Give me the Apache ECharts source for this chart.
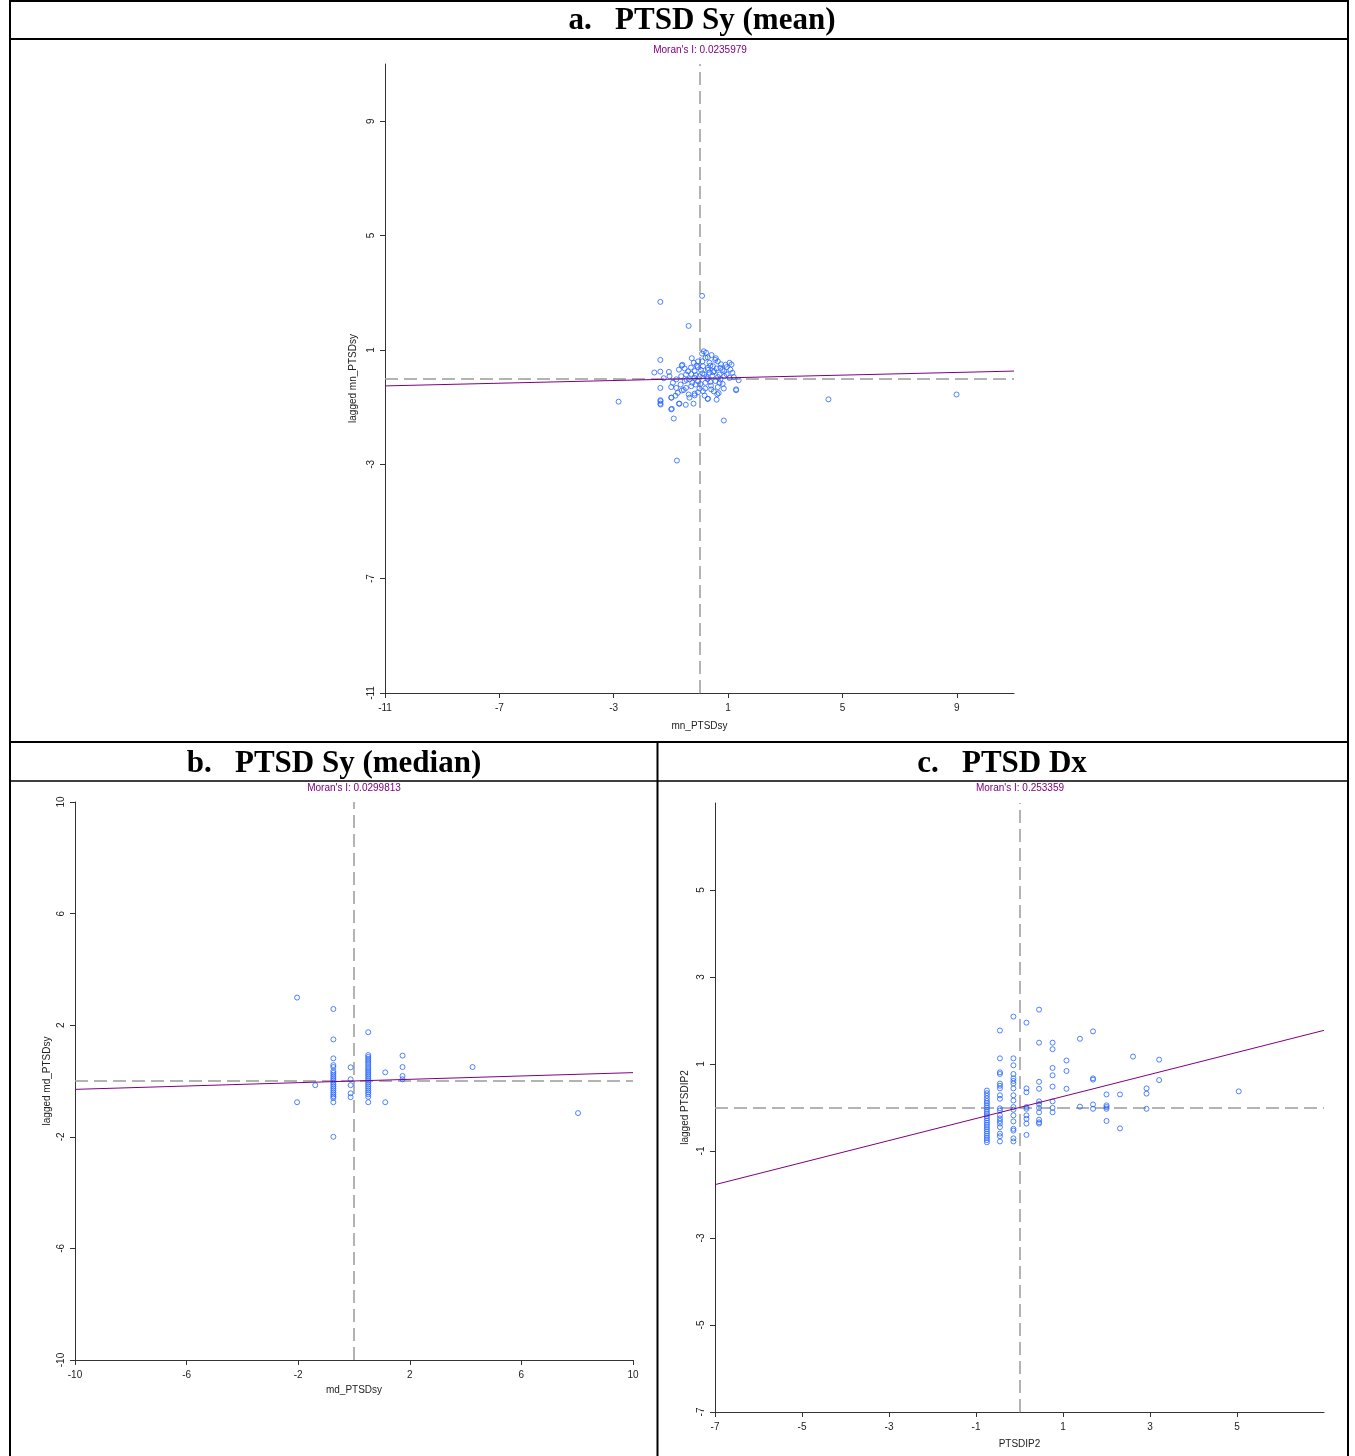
<!DOCTYPE html>
<html>
<head>
<meta charset="utf-8">
<script src="https://cdn.jsdelivr.net/npm/echarts@6/dist/echarts.min.js"></script>
<style>
html,body{margin:0;padding:0;background:#fff;}
#chart{width:1355px;height:1456px;}
</style>
</head>
<body>
<div id="chart"></div>
<script>
// ---------- Panel titles & labels ----------
const panelTitles = ['a.\u00a0\u00a0\u00a0PTSD Sy (mean)', 'b.\u00a0\u00a0\u00a0PTSD Sy (median)', 'c.\u00a0\u00a0\u00a0PTSD Dx'];
const moranValues = [0.0235979, 0.0299813, 0.253359];
const xNames = ['mn_PTSDsy', 'md_PTSDsy', 'PTSDIP2'];
const yNames = ['lagged mn_PTSDsy', 'lagged md_PTSDsy', 'lagged PTSDIP2'];

// ---------- Axis ranges & tick labels ----------
const rangeA = [-11, 11];
const ticksA = [-11, -7, -3, 1, 5, 9];
const rangeB = [-10, 10];
const ticksB = [-10, -6, -2, 2, 6, 10];
const rangeC = [-7, 7];
const ticksC = [-7, -5, -3, -1, 1, 3, 5];

// ---------- Data: panel a (mean) ----------
const meanPoints = [
  [-1.37,2.68],[0.09,2.89],[-0.38,1.84],[-1.37,0.65],[-2.83,-0.81],[-0.79,-2.87],[0.85,-1.47],
  [-0.90,-1.40],[-0.97,-1.06],[-1.37,-0.76],[-1.37,-0.88],[-0.72,-0.88],[-0.48,-0.92],[-0.21,-0.88],
  [0.29,-0.71],[0.60,-0.74],[1.28,-0.41],[1.37,-0.06],[-1.37,-0.33],[-1.58,0.21],[-1.37,0.24],
  [-1.07,0.23],[-1.05,0.08],[-1.25,0.01],[-0.27,0.71],[-0.60,0.48],[-0.72,0.31],[-0.98,-0.67],
  [-0.84,-0.60],[-0.35,-0.67],[-0.17,-0.59],[0.67,-0.51],[1.12,0.49],[0.91,0.48],[0.57,0.71],
  [0.23,0.90],[0.09,0.87],[-0.05,0.60],[0.29,0.74],[4.51,-0.73],[8.99,-0.56],[-0.62,0.45],
  [-0.52,0.35],[0.21,0.72],[0.64,0.60],[1.08,0.31],[0.87,0.26],[0.73,0.37],[0.47,0.43],
  [0.29,0.37],[0.12,0.43],[-0.06,0.40],[-0.17,0.26],[-0.29,0.16],[-0.47,0.14],[-0.64,0.08],
  [-0.81,-0.03],[-0.93,-0.15],[-0.99,-0.30],[-0.81,-0.33],[-0.66,-0.21],[-0.52,-0.09],[-0.35,-0.03],
  [-0.17,0.02],[0.00,0.08],[0.17,0.14],[0.35,0.20],[0.52,0.26],[0.70,0.14],[0.87,0.08],
  [1.05,0.02],[0.73,-0.03],[0.56,-0.09],[0.38,-0.12],[0.21,-0.15],[0.03,-0.19],[-0.14,-0.21],
  [-0.29,-0.27],[-0.47,-0.33],[-0.62,-0.42],[-0.76,-0.50],[-0.38,-0.56],[-0.17,-0.53],[0.12,-0.44],
  [0.41,-0.38],[0.64,-0.30],[0.81,-0.19],[1.28,-0.38],[-1.36,-0.79],[-1.36,-0.91],[-0.99,-0.67],
  [-0.70,-0.88],[-0.99,-1.08],[0.29,-0.71],[0.05,0.30],[0.25,0.05],[0.45,0.10],[0.60,0.35],
  [0.75,0.50],[0.95,0.15],[1.15,0.20],[0.40,-0.25],[0.20,-0.35],[-0.05,-0.10],[-0.10,0.45],
  [0.10,0.60],[0.35,0.55],[0.50,-0.45],[0.85,-0.35],[-0.25,-0.15],[-0.40,0.25],[-0.55,-0.40],
  [0.00,-0.35],[0.65,0.05],[0.30,0.30],[0.55,0.65],[0.15,0.95],[0.42,0.82],[0.95,0.40],
  [1.05,0.55],[-0.20,0.55],[0.70,-0.15],[0.10,0.18],[0.28,-0.02],[-0.12,0.12],[0.48,0.22],
  [0.80,0.30],[1.20,0.05],[-0.45,-0.05],[-0.30,0.38],[0.62,-0.55],[0.18,-0.60],[-0.05,-0.48],
  [0.38,0.45]
];

// ---------- Data: panel b (median) ----------
const medianPoints = [
  [-2.04,2.99],[-2.04,-0.76],[-1.39,-0.15],
  [-0.74,2.58],[-0.74,1.49],[-0.74,0.81],[-0.74,0.57],[-0.74,0.50],[-0.74,0.36],[-0.74,0.29],
  [-0.74,0.22],[-0.74,0.15],[-0.74,0.08],[-0.74,0.01],[-0.74,-0.06],[-0.74,-0.13],[-0.74,-0.20],
  [-0.74,-0.27],[-0.74,-0.34],[-0.74,-0.41],[-0.74,-0.48],[-0.74,-0.55],[-0.74,-0.61],[-0.74,-0.76],
  [-0.74,-2.00],
  [-0.12,0.49],[-0.12,0.06],[-0.12,-0.15],[-0.12,-0.44],[-0.12,-0.58],
  [0.51,1.75],[0.51,0.93],[0.51,0.86],[0.51,0.79],[0.51,0.72],[0.51,0.65],[0.51,0.58],[0.51,0.50],
  [0.51,0.43],[0.51,0.36],[0.51,0.29],[0.51,0.22],[0.51,0.15],[0.51,0.08],[0.51,0.01],[0.51,-0.06],
  [0.51,-0.13],[0.51,-0.20],[0.51,-0.27],[0.51,-0.34],[0.51,-0.41],[0.51,-0.48],[0.51,-0.57],[0.51,-0.76],
  [1.12,0.31],[1.12,-0.76],
  [1.74,0.91],[1.74,0.50],[1.74,0.18],[1.74,0.06],
  [4.25,0.50],[8.03,-1.15]
];

// ---------- Data: panel c (Dx) ----------
const dxPoints = [
  [-0.75,0.39],[-0.75,0.33],[-0.75,0.27],[-0.75,0.21],[-0.75,0.15],[-0.75,0.10],[-0.75,0.05],[-0.75,0.00],
  [-0.75,-0.05],[-0.75,-0.10],[-0.75,-0.15],[-0.75,-0.20],[-0.75,-0.25],[-0.75,-0.30],[-0.75,-0.35],
  [-0.75,-0.40],[-0.75,-0.45],[-0.75,-0.50],[-0.75,-0.55],[-0.75,-0.60],[-0.75,-0.65],[-0.75,-0.70],
  [-0.75,-0.75],[-0.75,-0.80],
  [-0.45,1.77],[-0.45,1.13],[-0.45,0.81],[-0.45,0.77],[-0.45,0.55],[-0.45,0.50],[-0.45,0.44],[-0.45,0.28],
  [-0.45,0.20],[-0.45,-0.02],[-0.45,-0.07],[-0.45,-0.18],[-0.45,-0.25],[-0.45,-0.31],[-0.45,-0.37],
  [-0.45,-0.45],[-0.45,-0.60],[-0.45,-0.66],[-0.45,-0.78],
  [-0.14,2.09],[-0.14,1.13],[-0.14,0.97],[-0.14,0.77],[-0.14,0.67],[-0.14,0.61],[-0.14,0.55],[-0.14,0.44],
  [-0.14,0.28],[-0.14,0.16],[-0.14,0.01],[-0.14,-0.05],[-0.14,-0.18],[-0.14,-0.32],[-0.14,-0.49],
  [-0.14,-0.53],[-0.14,-0.71],[-0.14,-0.78],
  [0.16,1.95],[0.16,0.44],[0.16,0.35],[0.16,0.01],[0.16,-0.03],[0.16,-0.18],[0.16,-0.26],[0.16,-0.37],[0.16,-0.63],
  [0.45,2.25],[0.45,1.49],[0.45,0.59],[0.45,0.43],[0.45,0.14],[0.45,0.08],[0.45,-0.01],[0.45,-0.11],
  [0.45,-0.28],[0.45,-0.34],[0.45,-0.37],
  [0.76,1.49],[0.76,1.34],[0.76,0.91],[0.76,0.74],[0.76,0.48],[0.76,0.14],[0.76,-0.01],[0.76,-0.11],
  [1.08,1.08],[1.08,0.84],[1.08,0.43],
  [1.39,1.58],[1.39,0.02],
  [1.69,1.75],[1.69,0.67],[1.69,0.64],[1.69,0.07],[1.69,-0.03],
  [2.00,0.30],[2.00,0.05],[2.00,0.01],[2.00,-0.03],[2.00,-0.31],
  [2.31,0.30],[2.31,-0.48],
  [2.61,1.17],
  [2.92,0.44],[2.92,0.32],[2.92,-0.03],
  [3.21,1.10],[3.21,0.63],
  [5.04,0.37]
];

// ---------- Styling ----------
const POINT = '#2364ff';
const PURPLE = '#800080';
const AXIS = '#333';
const LABEL_FONT = 'Liberation Sans, Arial, sans-serif';
const SERIF = 'Liberation Serif, Times New Roman, serif';

const grids = [
  {left: 385, top: 64, width: 629, height: 629},
  {left: 75, top: 802, width: 558, height: 558},
  {left: 715, top: 803, width: 609, height: 609}
];
const ranges = [rangeA, rangeB, rangeC];
const ticks = [ticksA, ticksB, ticksC];
const data = [meanPoints, medianPoints, dxPoints];
const nameGapsX = [28, 25, 27];
const nameGapsY = [27, 23, 25];

function axis(i, isX) {
  return {
    type: 'value',
    gridIndex: i,
    min: ranges[i][0],
    max: ranges[i][1],
    name: isX ? xNames[i] : yNames[i],
    nameLocation: 'middle',
    nameGap: isX ? nameGapsX[i] : nameGapsY[i],
    nameTextStyle: {fontFamily: LABEL_FONT, fontSize: 10, color: '#222'},
    axisLine: {show: true, onZero: false, lineStyle: {color: AXIS, width: 1}},
    axisTick: {show: true, length: 5, inside: false, customValues: ticks[i], lineStyle: {color: AXIS}},
    axisLabel: {
      show: true, customValues: ticks[i], fontFamily: LABEL_FONT, fontSize: 10, color: '#222',
      margin: isX ? 10 : 9, rotate: isX ? 0 : 90,
      showMinLabel: true, showMaxLabel: true
    },
    splitLine: {show: false}
  };
}

const xAxes = [0,1,2].map(i => axis(i, true));
const yAxes = [0,1,2].map(i => axis(i, false));

const series = [];
[0,1,2].forEach(i => {
  series.push({
    type: 'scatter',
    xAxisIndex: i, yAxisIndex: i,
    data: data[i],
    symbol: 'circle',
    symbolSize: 5,
    itemStyle: {color: 'rgba(0,0,0,0)', borderColor: POINT, borderWidth: 1},
    silent: true,
    z: 3,
    markLine: {
      silent: true,
      symbol: 'none',
      label: {show: false},
      lineStyle: {color: '#9a9a9a', type: [13, 6], width: 1.5},
      data: [{xAxis: 0}, {yAxis: 0}],
      z: 2
    }
  });
  const r = ranges[i];
  series.push({
    type: 'line',
    xAxisIndex: i, yAxisIndex: i,
    data: [[r[0], r[0] * moranValues[i]], [r[1], r[1] * moranValues[i]]],
    showSymbol: false,
    symbol: 'none',
    lineStyle: {color: PURPLE, width: 1},
    silent: true,
    z: 4
  });
});

const headerStyle = {font: 'bold 31px ' + SERIF, fill: '#000', textAlign: 'center', textVerticalAlign: 'middle'};
const moranStyle = {font: '10px ' + LABEL_FONT, fill: PURPLE, textAlign: 'center', textVerticalAlign: 'middle'};
function hline(x1, x2, y, w) { return {type: 'line', shape: {x1: x1, y1: y, x2: x2, y2: y}, style: {stroke: '#000', lineWidth: w}, silent: true}; }
function vline(x, y1, y2, w) { return {type: 'line', shape: {x1: x, y1: y1, x2: x, y2: y2}, style: {stroke: '#000', lineWidth: w}, silent: true}; }

const graphic = [
  hline(9, 1349, 1, 2),
  vline(10, 0, 1456, 2),
  vline(1348, 0, 1456, 2),
  hline(9, 1349, 39, 2),
  hline(9, 1349, 742, 2),
  vline(657.5, 742, 1456, 2),
  hline(9, 1349, 781, 1.5),
  {type: 'text', x: 702, y: 21, style: Object.assign({text: panelTitles[0]}, headerStyle)},
  {type: 'text', x: 334, y: 764, style: Object.assign({text: panelTitles[1]}, headerStyle)},
  {type: 'text', x: 1002, y: 764, style: Object.assign({text: panelTitles[2]}, headerStyle)},
  {type: 'text', x: 700, y: 50, style: Object.assign({text: "Moran's I: " + moranValues[0]}, moranStyle)},
  {type: 'text', x: 354, y: 788, style: Object.assign({text: "Moran's I: " + moranValues[1]}, moranStyle)},
  {type: 'text', x: 1020, y: 788, style: Object.assign({text: "Moran's I: " + moranValues[2]}, moranStyle)}
];

const chart = echarts.init(document.getElementById('chart'), null, {renderer: 'canvas'});
chart.setOption({
  animation: false,
  backgroundColor: '#fff',
  grid: grids,
  xAxis: xAxes,
  yAxis: yAxes,
  series: series,
  graphic: graphic
});
</script>
</body>
</html>
